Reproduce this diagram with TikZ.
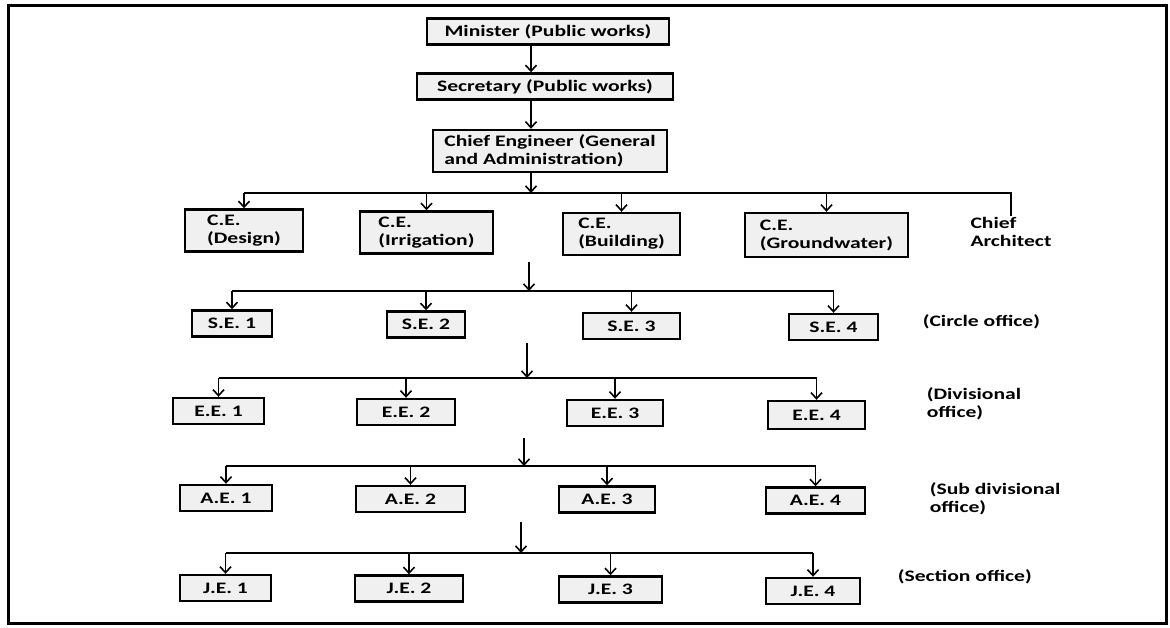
\documentclass[tikz,border=0pt]{standalone}
\usepackage{fontspec}
\setmainfont{Carlito}[FakeStretch=1.35]
\usetikzlibrary{positioning, arrows, arrows.meta}

\begin{document}
\begin{tikzpicture}[->,>={Straight Barb[length=6pt,width=11pt]},x=1pt,y=-1pt,line width=1.6pt,
	font=\fontsize{16}{18}\selectfont\bfseries]
	\tikzstyle{post}=[draw,line width=2.4pt,fill=gray!12,inner sep=2pt,minimum height=26pt]
	\tikzstyle{cebox}=[post,align=left,minimum height=42pt]
	\tikzstyle{side}=[align=left,anchor=west,inner sep=0pt]
	\useasboundingbox (0,0) rectangle (1170,628);
	\draw[-,line width=3pt] (8,6) rectangle (1166,623);
	% top of the chain
	\node[post,minimum width=242pt] (min) at (548,31.5) {Minister (Public works)};
	\node[post,minimum width=256pt] (sec) at (545,86.5) {Secretary (Public works)};
	\node[cebox,minimum width=234pt] (chief) at (550,151) {Chief Engineer (General\\and Administration)};
	\coordinate (spine) at (531,0);
	\draw (min.south -| spine) -- (sec.north -| spine);
	\draw (sec.south -| spine) -- (chief.north -| spine);
	% chief engineers
	\node[cebox,minimum width=118pt] (ce1) at (244,230.5) {C.E.\\(Design)};
	\node[cebox,minimum width=133pt] (ce2) at (426.5,232.5) {C.E.\\(Irrigation)};
	\node[cebox,minimum width=117pt] (ce3) at (621.5,234) {C.E.\\(Building)};
	\node[cebox,minimum width=163pt,minimum height=44pt] (ce4) at (826.5,235) {C.E.\\(Groundwater)};
	\node[align=left,inner sep=1pt] (arch) at (1011,232) {Chief\\Architect};
	\coordinate (bus1) at (531,193);
	\draw (chief.south -| spine) -- (bus1);
	\draw[-] (ce1.north |- bus1) -- (arch.north |- bus1) -- (arch.north);
	\foreach \n in {ce1,ce2,ce3,ce4}
		\draw (\n.north |- bus1) -- (\n.north);
	% circle office
	\node[post,minimum width=80pt] (se1) at (232,323.5) {S.E. 1};
	\node[post,minimum width=78pt] (se2) at (426,324.5) {S.E. 2};
	\node[post,minimum width=97pt] (se3) at (631.5,326) {S.E. 3};
	\node[post,minimum width=89pt] (se4) at (833.5,327) {S.E. 4};
	\node[side] (lab1) at (922,322) {(Circle office)};
	\coordinate (top2) at (529,262);
	\coordinate (bus2) at (529,291);
	\draw (top2) -- (bus2);
	\draw[-] (se1.north |- bus2) -- (se4.north |- bus2);
	\foreach \n in {se1,se2,se3,se4}
		\draw (\n.north |- bus2) -- (\n.north);
	% divisional office
	\node[post,minimum width=91pt] (ee1) at (218.5,411) {E.E. 1};
	\node[post,minimum width=98pt] (ee2) at (406,412) {E.E. 2};
	\node[post,minimum width=96pt] (ee3) at (615,413) {E.E. 3};
	\node[post,minimum width=97pt,minimum height=28pt] (ee4) at (816.5,415) {E.E. 4};
	\node[side] (lab2) at (926,404) {(Divisional\\office)};
	\coordinate (top3) at (527,343);
	\coordinate (bus3) at (527,378);
	\draw (top3) -- (bus3);
	\draw[-] (ee1.north |- bus3) -- (ee4.north |- bus3);
	\foreach \n in {ee1,ee2,ee3,ee4}
		\draw (\n.north |- bus3) -- (\n.north);
	% sub divisional office
	\node[post,minimum width=92pt] (ae1) at (226,498) {A.E. 1};
	\node[post,minimum width=109pt] (ae2) at (410.5,499) {A.E. 2};
	\node[post,minimum width=96pt] (ae3) at (607,499.5) {A.E. 3};
	\node[post,minimum width=99pt] (ae4) at (815.5,500.5) {A.E. 4};
	\node[side] (lab3) at (929,499) {(Sub divisional\\office)};
	\coordinate (top4) at (524,438);
	\coordinate (bus4) at (524,466);
	\draw (top4) -- (bus4);
	\draw[-] (ae1.north |- bus4) -- (ae4.north |- bus4);
	\foreach \n in {ae1,ae2,ae3,ae4}
		\draw (\n.north |- bus4) -- (\n.north);
	% section office
	\node[post,minimum width=91pt] (je1) at (225.5,588) {J.E. 1};
	\node[post,minimum width=108pt] (je2) at (409,588.5) {J.E. 2};
	\node[post,minimum width=103pt] (je3) at (610.5,589.5) {J.E. 3};
	\node[post,minimum width=94pt] (je4) at (813,591) {J.E. 4};
	\node[side] (lab4) at (897,577) {(Section office)};
	\coordinate (top5) at (521,522);
	\coordinate (bus5) at (521,553);
	\draw (top5) -- (bus5);
	\draw[-] (je1.north |- bus5) -- (je4.north |- bus5);
	\foreach \n in {je1,je2,je3,je4}
		\draw (\n.north |- bus5) -- (\n.north);
\end{tikzpicture}
\end{document}
